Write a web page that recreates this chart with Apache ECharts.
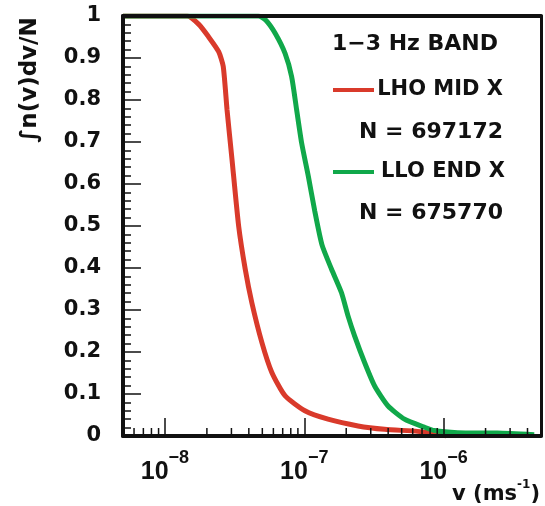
<!DOCTYPE html>
<html><head><meta charset="utf-8">
<script src="https://cdn.jsdelivr.net/npm/echarts@6/dist/echarts.min.js"></script>
<style>html,body{margin:0;padding:0;background:#fff}#c{width:545px;height:506px}</style>
</head><body><div id="c"></div>
<script>
// ---- data ----
const lhoV = [5e-9, 1.45e-8, 1.75e-8, 2.05e-8, 2.43e-8, 2.62e-8, 2.79e-8, 3.03e-8, 3.38e-8, 3.77e-8, 4.2e-8, 4.96e-8, 5.84e-8, 7.27e-8, 1.01e-7, 1.48e-7, 2.43e-7, 3.77e-7, 6.5e-7, 9.0e-7, 1.05e-6];
const lhoF = [1, 1, 0.98, 0.951, 0.915, 0.88, 0.777, 0.658, 0.50, 0.397, 0.318, 0.223, 0.152, 0.096, 0.060, 0.040, 0.024, 0.016, 0.011, 0.005, 0];
const lloV = [5e-9, 4.69e-8, 5.3e-8, 6.18e-8, 7.28e-8, 8.11e-8, 8.81e-8, 9.57e-8, 1.07e-7, 1.19e-7, 1.34e-7, 1.57e-7, 1.85e-7, 2.06e-7, 2.30e-7, 2.71e-7, 3.2e-7, 3.98e-7, 5.24e-7, 7.28e-7, 8.59e-7, 1.26e-6, 2.43e-6, 4.47e-6];
const lloF = [1, 1, 0.99, 0.959, 0.911, 0.856, 0.777, 0.698, 0.618, 0.535, 0.455, 0.397, 0.341, 0.286, 0.238, 0.175, 0.119, 0.072, 0.040, 0.021, 0.013, 0.008, 0.007, 0.003];
const xTickExponents = [-8, -7, -6];
const xMinorTicks = [6e-9, 7e-9, 8e-9, 9e-9, 2e-8, 3e-8, 4e-8, 5e-8, 6e-8, 7e-8, 8e-8, 9e-8, 2e-7, 3e-7, 4e-7, 5e-7, 6e-7, 7e-7, 8e-7, 9e-7, 2e-6, 3e-6, 4e-6];
const legendTitle = '1\u22123 Hz BAND';
const seriesNames = ['LHO MID X', 'LLO END X'];
const seriesCounts = ['N = 697172', 'N = 675770'];
const yName = '\u222Bn(v)dv/N';
const xName = ['v (ms', '-1', ')'];

const RED = '#d93a2b', GREEN = '#10a84a';
const chart = echarts.init(document.getElementById('c'), null, {renderer: 'canvas'});
const lf = 'bold 21px "DejaVu Sans"';
const pair = (a, b) => a.map((v, i) => [v, b[i]]);

const option = {
  animation: false,
  backgroundColor: '#fff',
  grid: {left: 123, right: 4, top: 16, bottom: 70, show: false},
  xAxis: [{
    type: 'log', logBase: 10, min: 5e-9, max: 5e-6, position: 'bottom', z: 5,
    axisLine: {show: true, onZero: false, lineStyle: {color: '#111', width: 4}},
    axisTick: {show: true, inside: true, length: 18, lineStyle: {color: '#111', width: 1.5}},
    splitLine: {show: false},
    axisLabel: {
      margin: 13, showMinLabel: false, showMaxLabel: false,
      formatter: v => {
        const l = Math.log10(v), e = Math.round(l);
        if (Math.abs(l - e) > 1e-6 || xTickExponents.indexOf(e) < 0) return '';
        return '{b|10}{s|\u2212' + (-e) + '}';
      },
      rich: {
        b: {fontFamily: 'Liberation Sans', fontWeight: 'bold', fontSize: 25, lineHeight: 36, color: '#111', verticalAlign: 'bottom'},
        s: {fontFamily: 'Liberation Sans', fontWeight: 'bold', fontSize: 18, lineHeight: 14, color: '#111', verticalAlign: 'top'}
      }
    }
  }, {
    type: 'log', logBase: 10, min: 5e-9, max: 5e-6, position: 'top', z: 5,
    axisLine: {show: true, onZero: false, lineStyle: {color: '#111', width: 4}},
    axisTick: {show: false}, axisLabel: {show: false}, splitLine: {show: false}
  }],
  yAxis: [{
    type: 'value', min: 0, max: 1, interval: 0.1, position: 'left', z: 5,
    axisLine: {show: true, onZero: false, lineStyle: {color: '#111', width: 4}},
    axisTick: {show: true, inside: true, length: 18, lineStyle: {color: '#111', width: 1.5}},
    minorTick: {show: true, splitNumber: 5, length: 8, lineStyle: {color: '#111', width: 1.5}},
    splitLine: {show: false},
    axisLabel: {margin: 22, fontFamily: 'DejaVu Sans', fontWeight: 'bold', fontSize: 21, color: '#111'}
  }, {
    type: 'value', min: 0, max: 1, position: 'right', z: 5,
    axisLine: {show: true, onZero: false, lineStyle: {color: '#111', width: 3}},
    axisTick: {show: false}, axisLabel: {show: false}, splitLine: {show: false}
  }],
  series: [{
    name: seriesNames[0], type: 'line', data: pair(lhoV, lhoF), showSymbol: false,
    smooth: 0.2,
    lineStyle: {color: RED, width: 5}, itemStyle: {color: RED}, z: 2
  }, {
    name: seriesNames[1], type: 'line', data: pair(lloV, lloF), showSymbol: false,
    smooth: 0.2,
    lineStyle: {color: GREEN, width: 5}, itemStyle: {color: GREEN}, z: 3
  }, {
    type: 'custom', data: xMinorTicks.map(v => [v, 0]), z: 6, silent: true,
    renderItem: (params, api) => {
      const p = api.coord([api.value(0), 0]);
      return {type: 'line', shape: {x1: p[0], y1: p[1], x2: p[0], y2: p[1] - 8},
        style: {stroke: '#111', lineWidth: 1.5}};
    }
  }],
  graphic: [
    {type: 'text', x: 498, y: 44, style: {text: legendTitle, font: 'bold 22px "DejaVu Sans"', fill: '#111', align: 'right', verticalAlign: 'middle'}},
    {type: 'line', shape: {x1: 333, y1: 90, x2: 374, y2: 90}, style: {stroke: RED, lineWidth: 4}},
    {type: 'text', x: 503, y: 90, style: {text: seriesNames[0], font: lf, fill: '#111', align: 'right', verticalAlign: 'middle'}},
    {type: 'text', x: 503, y: 132, style: {text: seriesCounts[0], font: 'bold 22px "DejaVu Sans"', fill: '#111', align: 'right', verticalAlign: 'middle'}},
    {type: 'line', shape: {x1: 333, y1: 172, x2: 374, y2: 172}, style: {stroke: GREEN, lineWidth: 4}},
    {type: 'text', x: 505, y: 172, style: {text: seriesNames[1], font: lf, fill: '#111', align: 'right', verticalAlign: 'middle'}},
    {type: 'text', x: 503, y: 213, style: {text: seriesCounts[1], font: 'bold 22px "DejaVu Sans"', fill: '#111', align: 'right', verticalAlign: 'middle'}},
    {type: 'text', x: 30, y: 80, rotation: Math.PI / 2,
      style: {text: yName, font: 'bold 23px "DejaVu Sans"', fill: '#111', align: 'center', verticalAlign: 'middle'}},
    {type: 'text', x: 540, y: 492,
      style: {text: '{a|' + xName[0] + '}{s|' + xName[1] + '}{a|' + xName[2] + '}', align: 'right', verticalAlign: 'middle',
        rich: {
          a: {fontFamily: 'DejaVu Sans', fontWeight: 'bold', fontSize: 21, fill: '#111', lineHeight: 26, verticalAlign: 'bottom'},
          s: {fontFamily: 'DejaVu Sans', fontWeight: 'bold', fontSize: 12, fill: '#111', lineHeight: 14, verticalAlign: 'top'}
        }}}
  ]
};
chart.setOption(option);
</script></body></html>
